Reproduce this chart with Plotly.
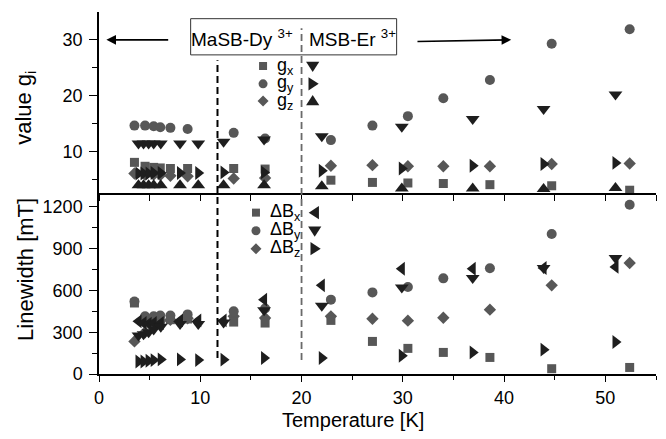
import plotly.graph_objects as go

# ---------------- data ----------------
T_dy = [3.5, 4.55, 5.4, 6.05, 7.05, 8.75, 13.3, 16.4, 22.9, 27.0, 30.5, 34.0, 38.6, 44.7, 52.4]
gx_dy = [8.0, 7.3, 7.1, 7.0, 6.9, 6.9, 6.9, 6.8, 4.8, 4.4, 4.3, 4.2, 4.0, 3.8, 3.0]
gy_dy = [14.6, 14.6, 14.5, 14.3, 14.2, 14.0, 13.3, 12.3, 12.0, 14.6, 16.3, 19.5, 22.8, 29.3, 31.9]
gz_dy = [6.0, 5.8, 5.8, 5.7, 5.6, 5.5, 5.1, 5.2, 7.4, 7.5, 7.3, 7.3, 7.3, 7.7, 7.8]

T_er = [3.9, 4.4, 4.9, 5.4, 6.1, 8.0, 9.8, 12.3, 16.3, 22.0, 29.9, 36.9, 43.9, 51.0]
gx_er = [11.4, 11.4, 11.4, 11.4, 11.4, 11.4, 11.4, 11.7, 12.1, 12.7, 14.4, 15.8, 17.6, 20.2]
gy_er = [6.0, 6.0, 6.0, 6.1, 6.1, 6.1, 6.1, 6.2, 6.2, 6.5, 6.9, 7.4, 7.7, 7.9]
gz_er = [3.9, 3.9, 3.9, 3.9, 3.9, 3.9, 3.9, 3.9, 3.9, 3.7, 3.3, 3.3, 3.2, 3.4]

dBx_dy = [510, 390, 385, 385, 390, 395, 373, 366, 385, 234, 184, 155, 119, 38, 47]
dBy_dy = [521, 414, 414, 420, 420, 428, 450, 470, 534, 586, 625, 687, 759, 1006, 1216]
dBz_dy = [234, 300, 350, 380, 390, 400, 414, 402, 414, 397, 383, 404, 462, 637, 797]

dBx_er = [378, 366, 361, 366, 366, 385, 385, 385, 534, 637, 756, 756, 761, 769]
dBy_er = [277, 285, 300, 320, 340, 360, 360, 370, 457, 490, 622, 689, 761, 833]
dBz_er = [90, 90, 95, 100, 105, 105, 100, 103, 115, 115, 131, 155, 175, 230]

g_ticks = [10, 20, 30]
lw_ticks = [0, 300, 600, 900, 1200]
t_ticks = [0, 10, 20, 30, 40, 50]

GRAY = "#575757"
BLACK = "#1e1e1e"
FONT = "Liberation Sans, Arial, sans-serif"

fig = go.Figure()

def add(x, y, sym, color, size, xa, ya):
    fig.add_trace(go.Scatter(x=x, y=y, mode="markers", xaxis=xa, yaxis=ya,
                             marker=dict(symbol=sym, color=color, size=size, line=dict(width=0)),
                             showlegend=False, hoverinfo="skip"))

# top panel
add(T_dy, gz_dy, "diamond", GRAY, 9.5, "x", "y")
add(T_dy, gx_dy, "square", GRAY, 9, "x", "y")
add(T_dy, gy_dy, "circle", GRAY, 10, "x", "y")
add(T_er, gx_er, "triangle-down", BLACK, 12, "x", "y")
add(T_er, gy_er, "triangle-right", BLACK, 12, "x", "y")
add(T_er, gz_er, "triangle-up", BLACK, 12, "x", "y")
# bottom panel
add(T_dy, dBz_dy, "diamond", GRAY, 9.5, "x2", "y2")
add(T_dy, dBx_dy, "square", GRAY, 9, "x2", "y2")
add(T_dy, dBy_dy, "circle", GRAY, 10, "x2", "y2")
add(T_er, dBx_er, "triangle-left", BLACK, 12, "x2", "y2")
add(T_er, dBy_er, "triangle-down", BLACK, 12, "x2", "y2")
add(T_er, dBz_er, "triangle-right", BLACK, 12, "x2", "y2")

tickfont = dict(family=FONT, size=18, color="black")
common = dict(showgrid=False, zeroline=False, linecolor="black", linewidth=1.5,
              tickcolor="black", tickwidth=1.2, tickfont=tickfont, automargin=False)

# the page body adds an 8px offset; the figure is sized to compensate
fig.update_layout(
    width=658, height=431,
    margin=dict(l=91, r=10, t=4, b=65),
    paper_bgcolor="white", plot_bgcolor="white",
    showlegend=False,
    xaxis=dict(domain=[0, 1], anchor="y", range=[0, 55], showline=True, ticks="outside",
               ticklen=6, tickvals=list(range(0, 56, 5)), showticklabels=False, **common),
    yaxis=dict(domain=[0.5, 1], anchor="x", range=[2.5, 35], showline=True, ticks="outside",
               ticklen=8, tickvals=g_ticks, ticklabelstandoff=3,
               minor=dict(tickvals=[5, 15, 25], ticks="outside", ticklen=5, tickcolor="black", tickwidth=1.2),
               **common),
    xaxis2=dict(domain=[0, 1], anchor="y2", range=[0, 55], showline=True, ticks="outside",
                ticklen=6, tickvals=t_ticks, ticklabelstandoff=1,
                minor=dict(tickvals=[5, 15, 25, 35, 45, 55], ticks="outside", ticklen=4, tickcolor="black", tickwidth=1.2),
                **common),
    yaxis2=dict(domain=[0, 0.5], anchor="x2", range=[0, 1300], showline=True, ticks="outside",
                ticklen=8, tickvals=lw_ticks, ticklabelstandoff=3,
                minor=dict(tickvals=[150, 450, 750, 1050], ticks="outside", ticklen=5, tickcolor="black", tickwidth=1.2),
                **common),
    xaxis3=dict(overlaying="x", side="top", anchor="y", range=[0, 55], showline=True, ticks="inside",
                ticklen=4, tickvals=list(range(0, 56, 5)), showticklabels=False, **common),
    yaxis3=dict(overlaying="y", side="right", anchor="x", range=[2.5, 35], showline=True, ticks="inside",
                ticklen=8, tickvals=g_ticks, showticklabels=False,
                minor=dict(tickvals=[5, 15, 25], ticks="inside", ticklen=5, tickcolor="black", tickwidth=1.2),
                **common),
    yaxis4=dict(overlaying="y2", side="right", anchor="x2", range=[0, 1300], showline=True, ticks="inside",
                ticklen=8, tickvals=lw_ticks, showticklabels=False,
                minor=dict(tickvals=[150, 450, 750, 1050], ticks="inside", ticklen=5, tickcolor="black", tickwidth=1.2),
                **common),
    xaxis4=dict(overlaying="x2", side="bottom", anchor="y2", range=[0, 55], showline=False, ticks="inside",
                ticklen=4, tickvals=list(range(0, 56, 5)), showticklabels=False, **common),
)

shapes = []
shapes.append(dict(type="line", xref="x2", yref="paper", x0=11.7, x1=11.7, y0=0.044, y1=0.867,
                   line=dict(color="black", width=2, dash="7px,4px")))
shapes.append(dict(type="line", xref="x2", yref="paper", x0=20, x1=20, y0=0.039, y1=0.955,
                   line=dict(color="#6a6a6a", width=1.8, dash="7px,4px")))
shapes.append(dict(type="rect", xref="x", yref="y", x0=9.05, x1=29.39, y0=27.3, y1=33.8,
                   line=dict(color="#333333", width=1)))

def glyph(kind, xa, ya, xref, yref, color, s):
    h = s / 2.0
    base = dict(xref=xref, yref=yref, xsizemode="pixel", ysizemode="pixel",
                xanchor=xa, yanchor=ya, fillcolor=color, line=dict(width=0))
    if kind == "circle":
        return dict(type="circle", x0=-h, x1=h, y0=-h, y1=h, **base)
    w = h * 1.1
    a = h * 1.0
    b = h * 0.7
    paths = {
        "square": f"M{-h},{-h}L{h},{-h}L{h},{h}L{-h},{h}Z",
        "diamond": f"M0,{h}L{h},0L0,{-h}L{-h},0Z",
        "down": f"M{-w},{b}L{w},{b}L0,{-a}Z",
        "up": f"M{-w},{-b}L{w},{-b}L0,{a}Z",
        "right": f"M{-b},{w}L{-b},{-w}L{a},0Z",
        "left": f"M{b},{w}L{b},{-w}L{-a},0Z",
    }
    return dict(type="path", path=paths[kind], **base)

top_rows = [25.3, 22.1, 19.0]
top_gray = ["square", "circle", "diamond"]
top_black = ["down", "right", "up"]
top_sizes = [8, 9, 11]
for r, gk, bk, gs in zip(top_rows, top_gray, top_black, top_sizes):
    shapes.append(glyph(gk, 16.2, r, "x", "y", GRAY, gs))
    shapes.append(glyph(bk, 21.1, r, "x", "y", BLACK, 12))
bot_rows = [1159, 1029, 900]
bot_black = ["left", "down", "right"]
for r, gk, bk, gs in zip(bot_rows, top_gray, bot_black, top_sizes):
    shapes.append(glyph(gk, 15.5, r, "x2", "y2", GRAY, gs))
    shapes.append(glyph(bk, 21.3, r, "x2", "y2", BLACK, 12))
fig.update_layout(shapes=shapes)

ann = []
lf = dict(family=FONT, size=18, color="black")
bf = dict(family=FONT, size=19, color="black")
for r, sub in zip(top_rows, ["x", "y", "z"]):
    ann.append(dict(xref="x", yref="y", x=17.35, y=r, xanchor="left", yanchor="middle",
                    text=f"g<sub>{sub}</sub>", showarrow=False, font=lf))
for r, sub in zip(bot_rows, ["x", "y", "z"]):
    ann.append(dict(xref="x2", yref="y2", x=16.65, y=r, xanchor="left", yanchor="middle",
                    text=f"ΔB<sub>{sub}</sub>", showarrow=False, font=lf))
ann.append(dict(xref="x", yref="y", x=19.4, y=30.3, xanchor="right", yanchor="middle",
                text="MaSB-Dy <sup>3+</sup>", showarrow=False, font=bf))
ann.append(dict(xref="x", yref="y", x=20.5, y=30.3, xanchor="left", yanchor="middle",
                text="MSB-Er <sup>3+</sup>", showarrow=False, font=bf))
ann.append(dict(xref="x", yref="y", axref="x", ayref="y", x=0.73, y=30, ax=6.98, ay=30,
                text="", showarrow=True, arrowhead=2, arrowsize=1.2, arrowwidth=1.6, arrowcolor="black"))
ann.append(dict(xref="x", yref="y", axref="x", ayref="y", x=40.7, y=30, ax=31.3, ay=29.7,
                text="", showarrow=True, arrowhead=2, arrowsize=1.2, arrowwidth=1.6, arrowcolor="black"))
tf = dict(family=FONT, size=22, color="black")
ann.append(dict(xref="paper", yref="paper", x=0.456, y=-0.128, xanchor="center", yanchor="middle",
                text="Temperature [K]", showarrow=False, font=dict(family=FONT, size=20, color="black")))
ann.append(dict(xref="paper", yref="paper", x=-0.133, y=0.735, xanchor="center", yanchor="middle",
                text="value g<sub>i</sub>", textangle=-90, showarrow=False, font=tf))
ann.append(dict(xref="paper", yref="paper", x=-0.133, y=0.29, xanchor="center", yanchor="middle",
                text="Linewidth [mT]", textangle=-90, showarrow=False, font=tf))
fig.update_layout(annotations=ann)

fig.write_html("out.html")
